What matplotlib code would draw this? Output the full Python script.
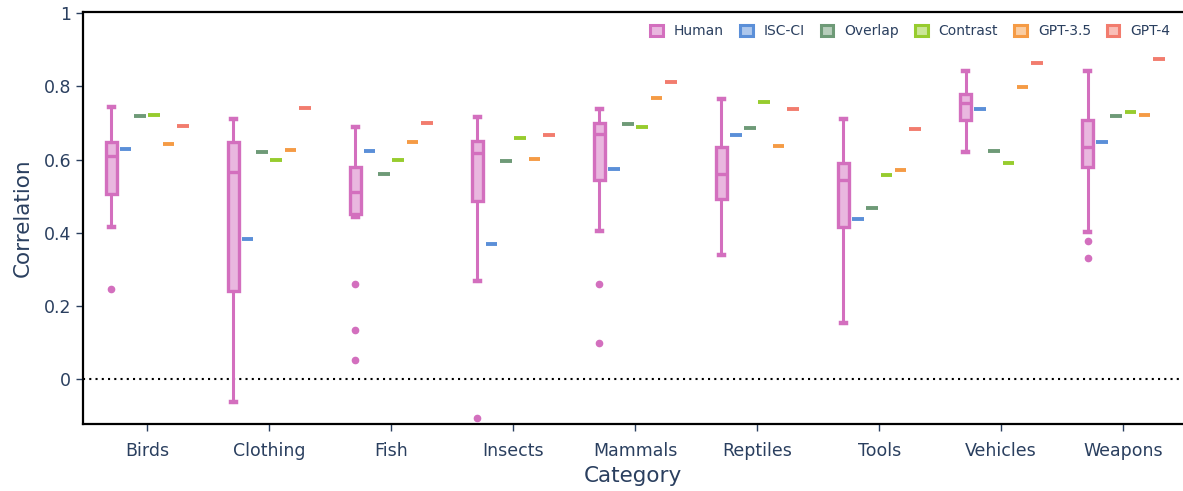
import numpy as np
import matplotlib
matplotlib.use("Agg")
import matplotlib.pyplot as plt
from matplotlib.patches import Patch

categories = ["Birds", "Clothing", "Fish", "Insects", "Mammals",
              "Reptiles", "Tools", "Vehicles", "Weapons"]

# human box statistics
human_whislo = [0.416, -0.061, 0.444, 0.269, 0.405, 0.340, 0.154, 0.620, 0.402]
human_q1 = [0.506, 0.240, 0.451, 0.487, 0.543, 0.493, 0.415, 0.707, 0.579]
human_med = [0.609, 0.566, 0.512, 0.618, 0.670, 0.562, 0.544, 0.754, 0.635]
human_q3 = [0.647, 0.647, 0.579, 0.651, 0.699, 0.634, 0.592, 0.780, 0.707]
human_whishi = [0.743, 0.712, 0.688, 0.716, 0.739, 0.766, 0.712, 0.843, 0.842]
human_fliers = [[0.247], [], [0.260, 0.135, 0.053], [-0.106], [0.260, 0.098],
                [], [], [], [0.379, 0.332]]

isc_ci = [0.628, 0.384, 0.624, 0.370, 0.574, 0.666, 0.437, 0.737, 0.647]
overlap = [0.720, 0.620, 0.562, 0.597, 0.697, 0.685, 0.468, 0.624, 0.718]
contrast = [0.723, 0.599, 0.598, 0.660, 0.688, 0.756, 0.557, 0.590, 0.730]
gpt35 = [0.642, 0.627, 0.648, 0.601, 0.768, 0.637, 0.571, 0.797, 0.721]
gpt4 = [0.691, 0.741, 0.699, 0.667, 0.813, 0.737, 0.683, 0.864, 0.876]

series_names = ["Human", "ISC-CI", "Overlap", "Contrast", "GPT-3.5", "GPT-4"]
colors = ["#D36FBE", "#5B8FD8", "#6E9A77", "#97CC2E", "#F59B45", "#F27C6E"]
text_color = "#2a3f5f"

plt.rcParams["font.family"] = ["DejaVu Sans"]

fig = plt.figure(figsize=(11.83, 4.91), dpi=100)
ax = fig.add_axes([83 / 1183, 1 - 424.3 / 491, 1 - 83 / 1183, (424.3 - 11.7) / 491])

x = np.arange(len(categories))
slot = 0.117
offsets = (np.arange(6) - 2.5) * slot
box_w = 0.095

def fade(c, a=0.5):
    rgb = np.array(matplotlib.colors.to_rgb(c))
    return tuple(rgb * a + (1 - a))

# human boxes
stats = []
for i in range(len(categories)):
    stats.append(dict(whislo=human_whislo[i], q1=human_q1[i], med=human_med[i],
                      q3=human_q3[i], whishi=human_whishi[i], fliers=human_fliers[i]))
hc = colors[0]
ax.bxp(stats, positions=x + offsets[0], widths=box_w, patch_artist=True,
       showfliers=True, capwidths=0.035,
       boxprops=dict(facecolor=fade(hc), edgecolor=hc, linewidth=2.4),
       medianprops=dict(color=hc, linewidth=2.4),
       whiskerprops=dict(color=hc, linewidth=2.2),
       capprops=dict(color=hc, linewidth=3.2),
       flierprops=dict(marker="o", markersize=4.5, markerfacecolor=hc,
                       markeredgecolor=hc, linestyle="none"),
       zorder=3)

# single-value traces
for k, vals in enumerate([isc_ci, overlap, contrast, gpt35, gpt4], start=1):
    ax.hlines(vals, x + offsets[k] - box_w / 2, x + offsets[k] + box_w / 2,
              colors=colors[k], linewidth=2.8, zorder=3)

ax.axhline(0, color="black", linestyle=(0, (1, 2)), linewidth=1.5, zorder=2)

ax.set_xlim(-0.525, 8.49)
ax.set_ylim(-0.123, 1.004)
ax.set_xticks(x)
ax.set_xticklabels(categories)
ax.set_yticks([0, 0.2, 0.4, 0.6, 0.8, 1])
ax.set_yticklabels(["0", "0.2", "0.4", "0.6", "0.8", "1"])
ax.tick_params(axis="both", colors=text_color, labelsize=12.5, length=5,
               width=1, direction="out")
ax.tick_params(axis="x", pad=8)
ax.set_xlabel("Category", color=text_color, fontsize=15.5, labelpad=4)
ax.set_ylabel("Correlation", color=text_color, fontsize=15.5, labelpad=8)

for side in ["left", "bottom", "top"]:
    ax.spines[side].set_color("black")
    ax.spines[side].set_linewidth(1.6)
ax.spines["right"].set_visible(False)

handles = [Patch(facecolor=fade(c), edgecolor=c, linewidth=2.2) for c in colors]
leg = ax.legend(handles, series_names, ncol=6, loc="upper right",
                bbox_to_anchor=(1.0, 1.0), frameon=False, fontsize=10,
                handlelength=0.9, handleheight=0.9, handletextpad=0.8,
                columnspacing=1.15, labelcolor=text_color)

fig.savefig("out.png", dpi=100)
